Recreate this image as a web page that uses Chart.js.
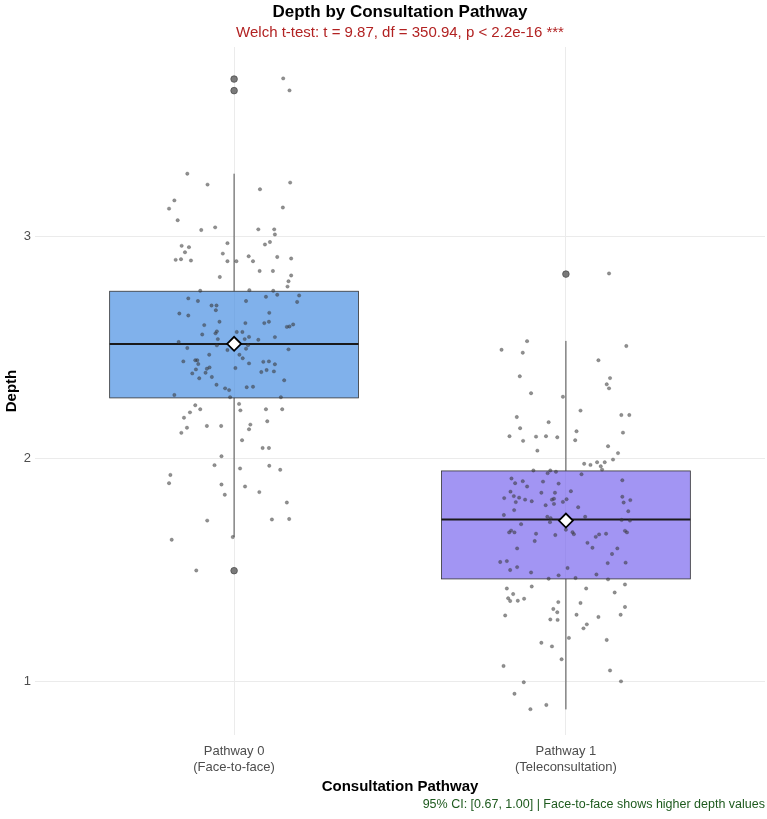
<!DOCTYPE html>
<html>
<head>
<meta charset="utf-8">
<script src="https://cdn.jsdelivr.net/npm/chart.js@4.4.1/dist/chart.umd.min.js"></script>
<style>
  html, body { margin: 0; padding: 0; background: #ffffff; }
  #wrap { width: 767px; height: 819px; }
</style>
</head>
<body>
<div id="wrap"><canvas id="depthChart" width="767" height="819"></canvas></div>
<script>
// ===== DATA =====
const categories = [
  ['Pathway 0', '(Face-to-face)'],
  ['Pathway 1', '(Teleconsultation)']
];
const positions = [1, 2];
const yTicks = [1, 2, 3];

// box summaries
const q1 = [2.274, 1.461];
const medians = [2.516, 1.728];
const q3 = [2.753, 1.946];
const whiskerLow = [1.650, 0.875];
const whiskerHigh = [3.281, 2.530];
const means = [2.517, 1.723];
const outliersFace = [3.706, 3.654, 1.498];
const outliersTele = [2.830];

// jittered observations: depth value and horizontal jitter offset
const depthFace = [3.709,3.655,3.281,3.232,3.241,3.211,3.161,3.124,3.129,3.072,
  3.028,3.040,3.031,3.031,3.008,2.969,2.963,2.974,2.957,2.951,
  2.928,2.922,2.894,2.897,2.891,2.888,2.888,2.910,2.888,2.907,
  2.900,2.844,2.844,2.824,2.817,2.798,2.774,2.755,2.758,2.755,
  2.721,2.709,2.709,2.728,2.737,2.734,2.705,2.689,2.689,2.668,
  2.653,2.656,2.644,2.601,2.616,2.610,2.610,2.616,2.593,2.595,
  2.604,2.559,2.564,2.573,2.570,2.570,2.548,2.538,2.535,2.547,
  2.538,2.525,2.498,2.489,2.495,2.511,2.492,2.510,2.468,2.468,
  2.452,2.438,2.443,2.443,2.426,2.429,2.436,2.438,2.425,2.402,
  2.405,2.411,2.408,2.384,2.387,2.390,2.399,2.393,2.362,2.368,
  2.353,2.333,2.317,2.309,2.322,2.324,2.287,2.277,2.277,2.241,
  2.223,2.209,2.185,2.247,2.218,2.223,2.223,2.169,2.140,2.148,
  2.148,2.154,2.133,2.117,2.084,2.049,2.049,2.012,1.972,1.957,
  1.969,1.951,1.928,1.891,1.885,1.876,1.839,1.851,1.804,1.723,
  1.728,1.730,1.637,1.649,1.499];
const jitterFace = [0.148,0.167,-0.141,-0.080,0.169,0.078,-0.180,-0.196,0.147,-0.170,
  -0.099,-0.057,0.073,0.121,0.123,-0.020,0.093,0.108,-0.158,-0.136,
  -0.148,-0.034,-0.176,-0.160,-0.130,-0.020,0.007,0.044,0.057,0.130,
  0.172,0.077,0.117,0.172,-0.043,0.164,0.161,-0.102,0.046,0.118,
  -0.138,-0.109,0.036,0.096,0.130,0.196,0.190,-0.068,-0.053,-0.055,
  -0.165,0.106,-0.138,-0.090,-0.044,0.034,0.091,0.105,0.159,0.167,
  0.178,-0.096,-0.056,-0.052,0.008,0.025,0.045,0.032,0.073,0.123,
  -0.049,-0.167,-0.141,-0.020,0.036,0.042,0.164,-0.052,-0.075,0.016,
  0.026,-0.153,-0.117,-0.111,-0.108,0.045,0.088,0.105,0.123,-0.115,
  -0.082,-0.074,0.004,-0.126,-0.086,0.082,0.098,0.120,-0.105,-0.067,
  0.151,-0.053,-0.027,-0.015,0.038,0.057,-0.180,-0.012,0.141,-0.117,
  -0.102,-0.133,-0.151,0.015,0.019,0.096,0.145,0.100,-0.142,-0.082,
  -0.039,0.049,0.045,-0.159,0.024,0.086,0.105,-0.038,-0.059,0.018,
  0.106,0.139,-0.192,-0.196,-0.038,0.033,-0.028,0.076,0.159,-0.081,
  0.114,0.166,-0.188,-0.004,-0.114];
const depthTele = [2.833,2.529,2.490,2.477,2.507,2.443,2.371,2.363,2.335,2.317,
  2.295,2.279,2.217,2.188,2.197,2.197,2.165,2.138,2.124,2.118,
  2.102,2.100,2.102,2.097,2.081,2.084,2.057,2.037,2.026,1.997,
  1.978,1.973,1.985,1.985,1.967,1.952,1.948,1.948,1.936,1.942,
  1.931,1.912,1.904,1.891,1.900,1.898,1.889,1.876,1.853,1.848,
  1.848,1.855,1.824,1.833,1.826,1.817,1.810,1.817,1.821,1.807,
  1.819,1.830,1.815,1.804,1.806,1.792,1.798,1.783,1.770,1.765,
  1.748,1.740,1.734,1.740,1.716,1.707,1.726,1.723,1.670,1.678,
  1.670,1.664,1.658,1.682,1.671,1.662,1.650,1.661,1.664,1.677,
  1.670,1.631,1.623,1.598,1.601,1.598,1.573,1.537,1.541,1.532,
  1.534,1.514,1.501,1.510,1.490,1.477,1.481,1.462,1.465,1.459,
  1.418,1.427,1.418,1.436,1.393,1.374,1.362,1.363,1.372,1.400,
  1.357,1.353,1.326,1.311,1.335,1.297,1.300,1.290,1.300,1.279,
  1.277,1.257,1.239,1.187,1.174,1.158,1.196,1.100,1.070,1.050,
  0.997,1.001,0.945,0.895,0.876];
const jitterTele = [0.130,-0.117,-0.194,-0.130,0.182,0.098,-0.139,0.133,0.123,0.130,
  -0.105,-0.009,0.044,-0.148,0.167,0.191,-0.052,-0.138,0.032,0.172,
  -0.170,-0.090,-0.060,-0.026,-0.129,0.028,0.127,-0.086,0.157,0.142,
  0.055,0.074,0.094,0.117,0.105,0.109,-0.098,-0.047,-0.055,-0.030,
  0.047,-0.164,0.170,-0.153,-0.130,-0.069,-0.022,-0.117,-0.167,-0.074,
  -0.033,0.015,-0.186,-0.157,-0.141,-0.123,-0.103,-0.042,-0.036,-0.009,
  0.002,0.170,0.194,0.174,-0.151,-0.061,-0.036,0.037,-0.156,0.188,
  -0.187,-0.056,-0.046,0.058,-0.048,-0.135,0.168,0.193,-0.171,-0.165,
  -0.155,-0.090,-0.032,0.000,0.020,0.024,0.090,0.100,0.121,0.178,
  0.184,-0.094,0.065,-0.147,0.080,0.155,0.139,-0.198,-0.178,0.126,
  0.180,-0.147,-0.168,0.005,-0.105,-0.022,0.092,-0.052,0.029,0.127,
  -0.178,-0.103,0.061,0.178,-0.159,-0.174,-0.168,-0.145,-0.126,0.147,
  -0.023,0.044,-0.038,-0.026,0.178,-0.183,0.032,0.098,0.165,-0.047,
  -0.025,0.063,0.053,0.123,-0.074,-0.042,0.009,-0.013,-0.188,0.133,
  -0.127,0.166,-0.155,-0.059,-0.107];

// ===== STYLE =====
const boxFills = ['rgba(74, 144, 226, 0.7)', 'rgba(123, 104, 238, 0.7)'];
const boxWidth = 0.75;
const FONT = "'Liberation Sans', Arial, sans-serif";

const toPoints = (vals, offs, pos) => vals.map((v, i) => ({ x: pos + (offs[i] || 0), y: v }));

// boxes, whiskers and medians drawn under the points
const boxPlugin = {
  id: 'boxes',
  beforeDatasetsDraw(chart) {
    const { ctx, scales: { x, y } } = chart;
    ctx.save();
    positions.forEach((pos, i) => {
      const cx = x.getPixelForValue(pos);
      const left = x.getPixelForValue(pos - boxWidth / 2);
      const right = x.getPixelForValue(pos + boxWidth / 2);
      const top = y.getPixelForValue(q3[i]);
      const bottom = y.getPixelForValue(q1[i]);

      ctx.strokeStyle = '#4d4d4d';
      ctx.lineWidth = 1;
      ctx.beginPath();
      ctx.moveTo(cx, top);
      ctx.lineTo(cx, y.getPixelForValue(whiskerHigh[i]));
      ctx.moveTo(cx, bottom);
      ctx.lineTo(cx, y.getPixelForValue(whiskerLow[i]));
      ctx.stroke();

      ctx.fillStyle = boxFills[i];
      ctx.fillRect(left, top, right - left, bottom - top);
      ctx.strokeStyle = '#333333';
      ctx.lineWidth = 0.8;
      ctx.strokeRect(left, top, right - left, bottom - top);

      ctx.strokeStyle = '#1a1a1a';
      ctx.lineWidth = 2;
      ctx.beginPath();
      const my = y.getPixelForValue(medians[i]);
      ctx.moveTo(left, my);
      ctx.lineTo(right, my);
      ctx.stroke();
    });
    ctx.restore();
  }
};

// titles, axis titles and caption
const textPlugin = {
  id: 'texts',
  afterDraw(chart) {
    const { ctx, chartArea } = chart;
    const mid = (chartArea.left + chartArea.right) / 2;
    ctx.save();
    ctx.textAlign = 'center';
    ctx.textBaseline = 'middle';
    ctx.fillStyle = '#000000';
    ctx.font = `bold 17px ${FONT}`;
    ctx.fillText('Depth by Consultation Pathway', mid, 12);
    ctx.fillStyle = '#b22222';
    ctx.font = `15px ${FONT}`;
    ctx.fillText('Welch t-test: t = 9.87, df = 350.94, p < 2.2e-16 ***', mid, 33);

    ctx.fillStyle = '#000000';
    ctx.font = `bold 15px ${FONT}`;
    ctx.fillText('Consultation Pathway', mid, 787);

    ctx.save();
    ctx.translate(12, (chartArea.top + chartArea.bottom) / 2);
    ctx.rotate(-Math.PI / 2);
    ctx.fillText('Depth', 0, 0);
    ctx.restore();

    ctx.textAlign = 'right';
    ctx.fillStyle = '#1e5a1e';
    ctx.font = `12.5px ${FONT}`;
    ctx.fillText('95% CI: [0.67, 1.00] | Face-to-face shows higher depth values', chartArea.right, 805);
    ctx.restore();
  }
};

const initChart = () => {
  const ctx = document.getElementById('depthChart');
  const pointFill = 'rgba(55, 55, 55, 0.55)';
  const pointEdge = 'rgba(55, 55, 55, 0.35)';

  new Chart(ctx, {
    type: 'scatter',
    data: {
      datasets: [
        {
          label: 'Outliers',
          data: [
            ...outliersFace.map(v => ({ x: positions[0], y: v })),
            ...outliersTele.map(v => ({ x: positions[1], y: v }))
          ],
          pointRadius: 3.3,
          backgroundColor: 'rgba(100, 100, 100, 0.85)',
          borderColor: 'rgba(70, 70, 70, 0.9)',
          borderWidth: 0.8,
          order: 3
        },
        {
          label: 'Face-to-face',
          data: toPoints(depthFace, jitterFace, positions[0]),
          pointRadius: 1.7,
          backgroundColor: pointFill,
          borderColor: pointEdge,
          borderWidth: 0.7,
          order: 2
        },
        {
          label: 'Teleconsultation',
          data: toPoints(depthTele, jitterTele, positions[1]),
          pointRadius: 1.7,
          backgroundColor: pointFill,
          borderColor: pointEdge,
          borderWidth: 0.7,
          order: 2
        },
        {
          label: 'Mean',
          data: means.map((v, i) => ({ x: positions[i], y: v })),
          pointStyle: 'rectRot',
          pointRadius: 7,
          backgroundColor: '#ffffff',
          borderColor: '#000000',
          borderWidth: 1.8,
          order: 1
        }
      ]
    },
    options: {
      responsive: false,
      animation: false,
      devicePixelRatio: 1,
      layout: { autoPadding: false, padding: { top: 47, right: 2, left: 0, bottom: 0 } },
      plugins: {
        legend: { display: false },
        tooltip: { enabled: false },
        title: { display: false }
      },
      scales: {
        x: {
          type: 'linear',
          min: 0.4,
          max: 2.6,
          afterBuildTicks: scale => { scale.ticks = positions.map(v => ({ value: v })); },
          afterFit: scale => {
            scale.height = 84;
            scale.paddingLeft = 0;
            scale.paddingRight = 0;
          },
          grid: { color: '#ebebeb', lineWidth: 1, drawTicks: false },
          border: { display: false },
          ticks: {
            padding: 9,
            color: '#4d4d4d',
            font: { family: FONT, size: 13 },
            callback: v => categories[positions.indexOf(v)] || ''
          }
        },
        y: {
          min: 0.76,
          max: 3.85,
          afterBuildTicks: scale => { scale.ticks = yTicks.map(v => ({ value: v })); },
          afterFit: scale => {
            scale.width = 35;
            scale.paddingTop = 0;
            scale.paddingBottom = 0;
          },
          grid: { color: '#ebebeb', lineWidth: 1, drawTicks: false },
          border: { display: false },
          ticks: {
            padding: 4,
            color: '#4d4d4d',
            font: { family: FONT, size: 13 },
            callback: v => String(v)
          }
        }
      }
    },
    plugins: [boxPlugin, textPlugin]
  });
};

document.addEventListener('DOMContentLoaded', initChart);
</script>
</body>
</html>
